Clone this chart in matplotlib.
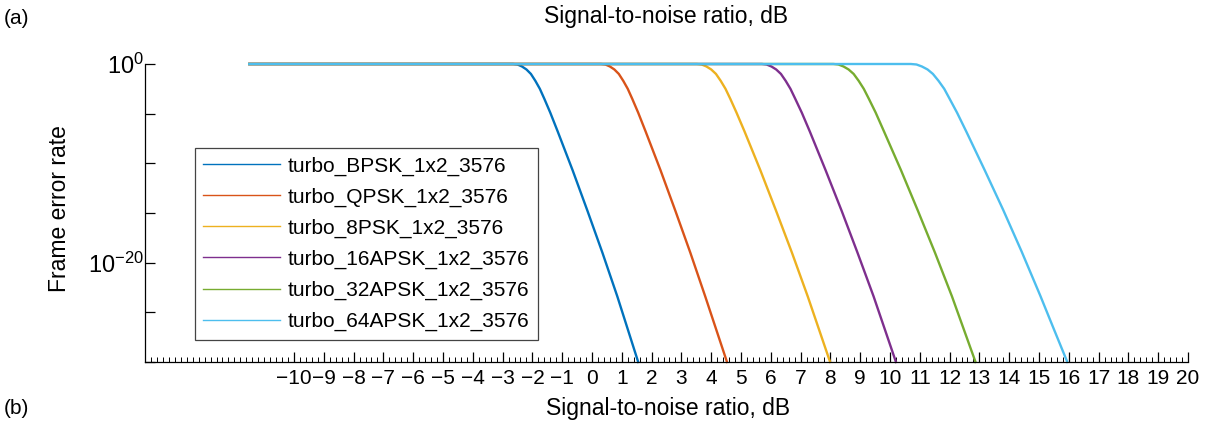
import matplotlib.pyplot as plt
import numpy as np

plt.rcParams['font.family'] = ['Liberation Sans', 'DejaVu Sans']
plt.rcParams['mathtext.default'] = 'regular'

labels = ['turbo_BPSK_1x2_3576', 'turbo_QPSK_1x2_3576', 'turbo_8PSK_1x2_3576',
          'turbo_16APSK_1x2_3576', 'turbo_32APSK_1x2_3576', 'turbo_64APSK_1x2_3576']
colors = ['#0072BD', '#D95319', '#EDB120', '#7E2F8E', '#77AC30', '#4DBEEE']

# SNR points (dB) and log10 of frame error rate
snr_bpsk = [-11.5, -2.65, -2.5, -2.35, -2.2, -2.05, -1.9, -1.75, -1.6, -1.4, -1.15, -0.65, -0.15, 0.35, 0.85, 1.55]
snr_qpsk = [-11.5, 0.3, 0.45, 0.6, 0.75, 0.9, 1.05, 1.2, 1.35, 1.55, 1.8, 2.3, 2.8, 3.3, 3.8, 4.53]
snr_8psk = [-11.5, 3.52, 3.68, 3.84, 4.0, 4.16, 4.32, 4.48, 4.64, 4.85, 5.12, 5.65, 6.18, 6.71, 7.24, 7.99]
snr_16apsk = [-11.5, 5.7, 5.86, 6.02, 6.18, 6.34, 6.5, 6.66, 6.82, 7.04, 7.31, 7.84, 8.38, 8.91, 9.45, 10.2]
snr_32apsk = [-11.5, 8.1, 8.27, 8.44, 8.61, 8.78, 8.95, 9.12, 9.29, 9.52, 9.8, 10.37, 10.94, 11.51, 12.08, 12.87]
snr_64apsk = [-11.5, 10.7, 10.89, 11.07, 11.26, 11.44, 11.63, 11.82, 12.0, 12.25, 12.56, 13.18, 13.8, 14.42, 15.04, 15.5, 15.95]

logfer_bpsk = [0, 0, -0.05, -0.25, -0.55, -1.0, -1.7, -2.5, -3.5, -4.9, -6.8, -10.7, -14.8, -19.0, -23.4, -30]
logfer_qpsk = [0, 0, -0.05, -0.25, -0.55, -1.0, -1.7, -2.5, -3.5, -4.9, -6.8, -10.7, -14.8, -19.0, -23.4, -30]
logfer_8psk = [0, 0, -0.05, -0.25, -0.55, -1.0, -1.7, -2.5, -3.5, -4.9, -6.8, -10.7, -14.8, -19.0, -23.4, -30]
logfer_16apsk = [0, 0, -0.05, -0.25, -0.55, -1.0, -1.7, -2.5, -3.5, -4.9, -6.8, -10.7, -14.8, -19.0, -23.4, -30]
logfer_32apsk = [0, 0, -0.05, -0.25, -0.55, -1.0, -1.7, -2.5, -3.5, -4.9, -6.8, -10.7, -14.8, -19.0, -23.4, -30]
logfer_64apsk = [0, 0, -0.05, -0.25, -0.55, -1.0, -1.7, -2.5, -3.5, -4.9, -6.8, -10.7, -14.7, -18.9, -23.3, -26.7, -30]

snrs = [snr_bpsk, snr_qpsk, snr_8psk, snr_16apsk, snr_32apsk, snr_64apsk]
logfers = [logfer_bpsk, logfer_qpsk, logfer_8psk, logfer_16apsk, logfer_32apsk, logfer_64apsk]

x_ticks = list(range(-10, 21))
y_ticks = [1e-30, 1e-25, 1e-20, 1e-15, 1e-10, 1e-5, 1e0]
y_ticklabels = ['', '', r'$10^{-20}$', '', '', '', r'$10^{0}$']

fig = plt.figure(figsize=(12.08, 4.23), dpi=100)
ax = fig.add_axes([145 / 1208, 1 - 362 / 423, 1043 / 1208, 298 / 423])

for snr, lf, lab, col in zip(snrs, logfers, labels, colors):
    ax.semilogy(snr, 10.0 ** np.array(lf), color=col, lw=1.7, label=lab, clip_on=False)

ax.set_xlim(-15, 20)
ax.set_ylim(1e-30, 1e0)
ax.set_xticks(x_ticks)
ax.set_xticks(np.arange(-15, 20.01, 0.2), minor=True)
ax.set_yticks(y_ticks)
ax.set_yticklabels(y_ticklabels)
ax.yaxis.set_minor_locator(plt.NullLocator())

ax.tick_params(axis='x', which='major', direction='in', length=7, width=0.9, labelsize=15, pad=5)
ax.tick_params(axis='x', which='minor', direction='in', length=3.5, width=0.7)
ax.tick_params(axis='y', direction='in', length=7, width=0.9, labelsize=17, pad=1)

for s in ['top', 'right']:
    ax.spines[s].set_visible(False)
for s in ['left', 'bottom']:
    ax.spines[s].set_linewidth(0.9)

leg = ax.legend(loc='upper left', bbox_to_anchor=(0.048, 0.718), borderaxespad=0,
                fontsize=15, handlelength=3.7, handletextpad=0.35, labelspacing=0.57,
                borderpad=0.4, fancybox=False, framealpha=1, edgecolor='#444444')
leg.get_frame().set_linewidth(0.9)
for line in leg.get_lines():
    line.set_linewidth(1.0)

fig.text(666 / 1208, 1 - 17 / 423, 'Signal-to-noise ratio, dB', fontsize=16.5, ha='center', va='center')
fig.text(668 / 1208, 1 - 408 / 423, 'Signal-to-noise ratio, dB', fontsize=16.5, ha='center', va='center')
fig.text(60 / 1208, 1 - 209 / 423, 'Frame error rate', fontsize=16.5, rotation=90, ha='center', va='center')
fig.text(4 / 1208, 1 - 18 / 423, '(a)', fontsize=15, ha='left', va='center')
fig.text(4 / 1208, 1 - 408 / 423, '(b)', fontsize=15, ha='left', va='center')

fig.savefig('out.png', dpi=100)
